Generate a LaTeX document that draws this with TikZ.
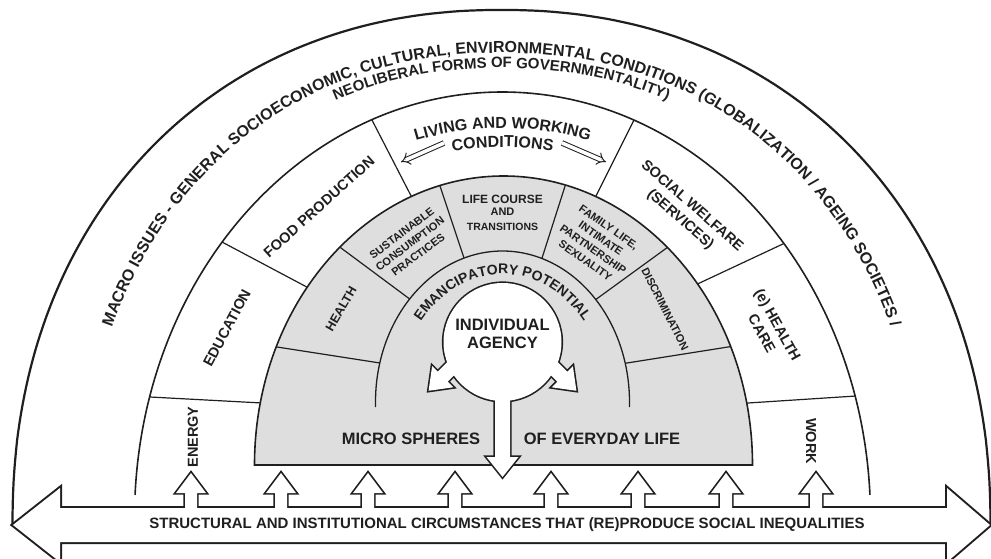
\documentclass[tikz,border=0pt]{standalone}
\usepackage{fontspec}
\setmainfont{Liberation Sans}
\usetikzlibrary{decorations.text,arrows.meta}
\definecolor{grayfill}{gray}{0.87}
\definecolor{ink}{gray}{0.12}
\newcommand\fsz[1]{\fontsize{#1}{#1}\selectfont\bfseries}
\begin{document}
\begin{tikzpicture}[x=1pt,y=1pt,
  heavyline/.style={draw=ink,line width=2.2pt},
  ringline/.style={draw=ink,line width=1.6pt},
  divline/.style={draw=ink,line width=1.2pt,shorten <=-14pt,shorten >=-14pt},
  lbl/.style={text=ink,inner sep=0pt,align=center},
  midlbl/.style={lbl,font=\fontsize{14.5}{18}\selectfont\bfseries},
  graylbl/.style={lbl,font=\fontsize{11}{13.5}\selectfont\bfseries},
  outlinestroke/.style={draw=ink,line width=4pt},
  agencystroke/.style={draw=ink,line width=3.2pt},
  hollowarrow/.style={draw=ink,line width=1pt,double=white,double distance=3.6pt,-{Implies[length=7pt,width=15pt]}}
]
\useasboundingbox (0,0) rectangle (991,-559);

% ---------- outer arc (macro ring) ----------
\draw[heavyline] plot[domain=180:0,samples=179,variable=\t]
  ({501.5+489*cos(\t)*(abs(cos(\t))+0.0001)^(-0.07)},{-525+515*(abs(sin(\t))+0.0001)^(0.93)});

\path[decorate,decoration={text along path,text align=center,
  text={|\fsz{16}\color{ink}|MACRO ISSUES - GENERAL SOCIOECONOMIC, CULTURAL, ENVIRONMENTAL CONDITIONS (GLOBALIZATION / AGEING SOCIETES /}}]
  plot[domain=180:0,samples=179,variable=\t]
  ({501.5+421*cos(\t)*(abs(cos(\t))+0.0001)^(-0.07)},{-525+472*(abs(sin(\t))+0.0001)^(0.93)});

\path[decorate,decoration={text along path,text align=center,
  text={|\fsz{15}\color{ink}|NEOLIBERAL FORMS OF GOVERNMENTALITY)}}]
  plot[domain=180:0,samples=179,variable=\t]
  ({501.5+406*cos(\t)*(abs(cos(\t))+0.0001)^(-0.07)},{-525+457*(abs(sin(\t))+0.0001)^(0.93)});

% ---------- second arc ----------
\draw[ringline] (502.5,-518) ++(176.9:368pt and 426pt)
  arc[start angle=176.9,end angle=3.1,x radius=368pt,y radius=426pt];

\begin{scope}
  \clip (502.5,-518) ellipse [x radius=368pt,y radius=426pt];
  \coordinate (d1a) at (150,-397); \coordinate (d1b) at (262,-403);
  \coordinate (d2a) at (222,-242); \coordinate (d2b) at (303,-285);
  \coordinate (d3a) at (373,-122); \coordinate (d3b) at (407,-188);
  \coordinate (d4a) at (633,-122); \coordinate (d4b) at (600,-188);
  \coordinate (d5a) at (785,-243); \coordinate (d5b) at (706,-280);
  \coordinate (d6a) at (856,-396); \coordinate (d6b) at (748,-403);
  \foreach \i in {1,...,6} {\draw[divline] (d\i a) -- (d\i b);}
\end{scope}

% living and working conditions
\path[decorate,decoration={text along path,text align=center,
  text={|\fsz{16}\color{ink}|LIVING AND WORKING}}]
  (502.5,-518) ++(130:339pt and 390pt) arc[start angle=130,end angle=50,x radius=339pt,y radius=390pt];
\path[decorate,decoration={text along path,text align=center,
  text={|\fsz{16}\color{ink}|CONDITIONS}}]
  (502.5,-518) ++(130:320pt and 371pt) arc[start angle=130,end angle=50,x radius=320pt,y radius=371pt];
\coordinate (lwa) at (444,-143); \coordinate (lwb) at (401,-162);
\coordinate (lwc) at (562,-143); \coordinate (lwd) at (606,-162);
\draw[hollowarrow] (lwa) -- (lwb);
\draw[hollowarrow] (lwc) -- (lwd);

% middle ring labels
\node[midlbl,rotate=90] (energy) at (193,-437) {ENERGY};
\node[midlbl,rotate=62] (education) at (227,-328) {EDUCATION};
\node[midlbl,rotate=42] (food) at (319,-207) {FOOD PRODUCTION};
\node[midlbl,rotate=-41] (welfare) at (686,-213) {SOCIAL WELFARE\\(SERVICES)};
\node[midlbl,rotate=-61] (hcare) at (770,-329) {(e) HEALTH\\CARE};
\node[midlbl,rotate=-90] (work) at (811,-441) {WORK};

% ---------- gray micro region ----------
\draw[ringline,fill=grayfill] (254.5,-465) arc[start angle=180,end angle=0,x radius=249pt,y radius=289pt] -- cycle;

\begin{scope}
  \clip (254.5,-465) arc[start angle=180,end angle=0,x radius=249pt,y radius=289pt] -- cycle;
  \coordinate (g1a) at (277,-347); \coordinate (g1b) at (380,-363);
  \coordinate (g2a) at (337,-245); \coordinate (g2b) at (407,-297);
  \coordinate (g3a) at (438,-180); \coordinate (g3b) at (463,-255);
  \coordinate (g4a) at (567,-180); \coordinate (g4b) at (543,-255);
  \coordinate (g5a) at (668,-247); \coordinate (g5b) at (602,-295);
  \coordinate (g6a) at (728,-347); \coordinate (g6b) at (627,-363);
  \foreach \i in {1,...,6} {\draw[divline] (g\i a) -- (g\i b);}
\end{scope}

% inner (emancipatory) arc
\fill[grayfill] (375.5,-402) arc[start angle=180,end angle=0,x radius=127pt,y radius=151pt] -- cycle;
\draw[ringline,line width=1.3pt] (502.5,-402) ++(181.9:127pt and 151pt)
  arc[start angle=181.9,end angle=-1.9,x radius=127pt,y radius=151pt];

% gray labels
\node[lbl,font=\fsz{12.5},rotate=60] (health) at (341,-309) {HEALTH};
\node[graylbl,rotate=37] (sust) at (410,-244) {SUSTAINABLE\\CONSUMPTION\\PRACTICES};
\node[lbl,font=\fsz{12}] (life1) at (502.5,-199) {LIFE COURSE};
\node[lbl,font=\fsz{11}] (life2) at (502.5,-212) {AND};
\node[lbl,font=\fsz{10.5}] (life3) at (502.5,-227) {TRANSITIONS};
\node[graylbl,rotate=-35] (family) at (597,-244) {FAMILY LIFE,\\INTIMATE\\PARTNERSHIP\\SEXUALITY};
\node[lbl,font=\fsz{11},rotate=-63] (discr) at (665,-309) {DISCRIMINATION};

\path[decorate,decoration={text along path,text align=center,
  text={|\fsz{14}\color{ink}|EMANCIPATORY POTENTIAL}}]
  (502.5,-400) ++(170:104pt and 126pt) arc[start angle=170,end angle=10,x radius=104pt,y radius=126pt];

\node[lbl,font=\fsz{16.5}] (micro) at (411,-439) {MICRO SPHERES};
\node[lbl,font=\fsz{16.5}] (everyday) at (602,-439) {OF EVERYDAY LIFE};

% ---------- individual agency (circle with three arrows) ----------
\def\agcircle{(502.5,-342) circle[radius=59pt]}
\def\agdown{(495,-385) -- (495,-457) -- (486.5,-457) -- (502.5,-477) -- (518.5,-457) -- (510,-457) -- (510,-385) -- cycle}
\def\agleft{(454.8,-354.6) -- (437.7,-371.7) -- (432.1,-366.1) -- (428.6,-390.8) -- (453.3,-387.3) -- (447.7,-381.7) -- (464.8,-364.6) -- cycle}
\def\agright{(540.2,-364.6) -- (557.3,-381.7) -- (551.7,-387.3) -- (576.4,-390.8) -- (572.9,-366.1) -- (567.3,-371.7) -- (550.2,-354.6) -- cycle}
\draw[agencystroke] \agcircle;
\draw[agencystroke,line join=miter] \agdown;
\draw[agencystroke,line join=miter] \agleft;
\draw[agencystroke,line join=miter] \agright;
\fill[white] \agcircle;
\fill[white] \agdown;
\fill[white] \agleft;
\fill[white] \agright;
\node[lbl,font=\fontsize{16.5}{18}\selectfont\bfseries] (agency) at (502.5,-334) {INDIVIDUAL\\AGENCY};

% ---------- structural arrow with upward arrows ----------
\def\structshape{
  (13,-525) -- (60,-488) -- (60,-508) -- (947,-508) -- (947,-488) -- (990,-525) -- (947,-562) -- (947,-542) -- (60,-542) -- (60,-562) -- cycle
}
\def\upshape#1{(#1-6,-510) -- (#1-6,-493) -- (#1-15,-493) -- (#1,-473) -- (#1+15,-493) -- (#1+6,-493) -- (#1+6,-510) -- cycle}
\draw[outlinestroke] \structshape;
\foreach \c in {191,281,368,455,551,638,726,816} {\draw[draw=ink,line width=3.4pt] \upshape{\c};}
\fill[white] \structshape;
\foreach \c in {191,281,368,455,551,638,726,816} {\fill[white] \upshape{\c};}
\node[lbl,font=\fsz{15}] (struct) at (507,-525) {STRUCTURAL AND INSTITUTIONAL CIRCUMSTANCES THAT (RE)PRODUCE SOCIAL INEQUALITIES};

\end{tikzpicture}
\end{document}
